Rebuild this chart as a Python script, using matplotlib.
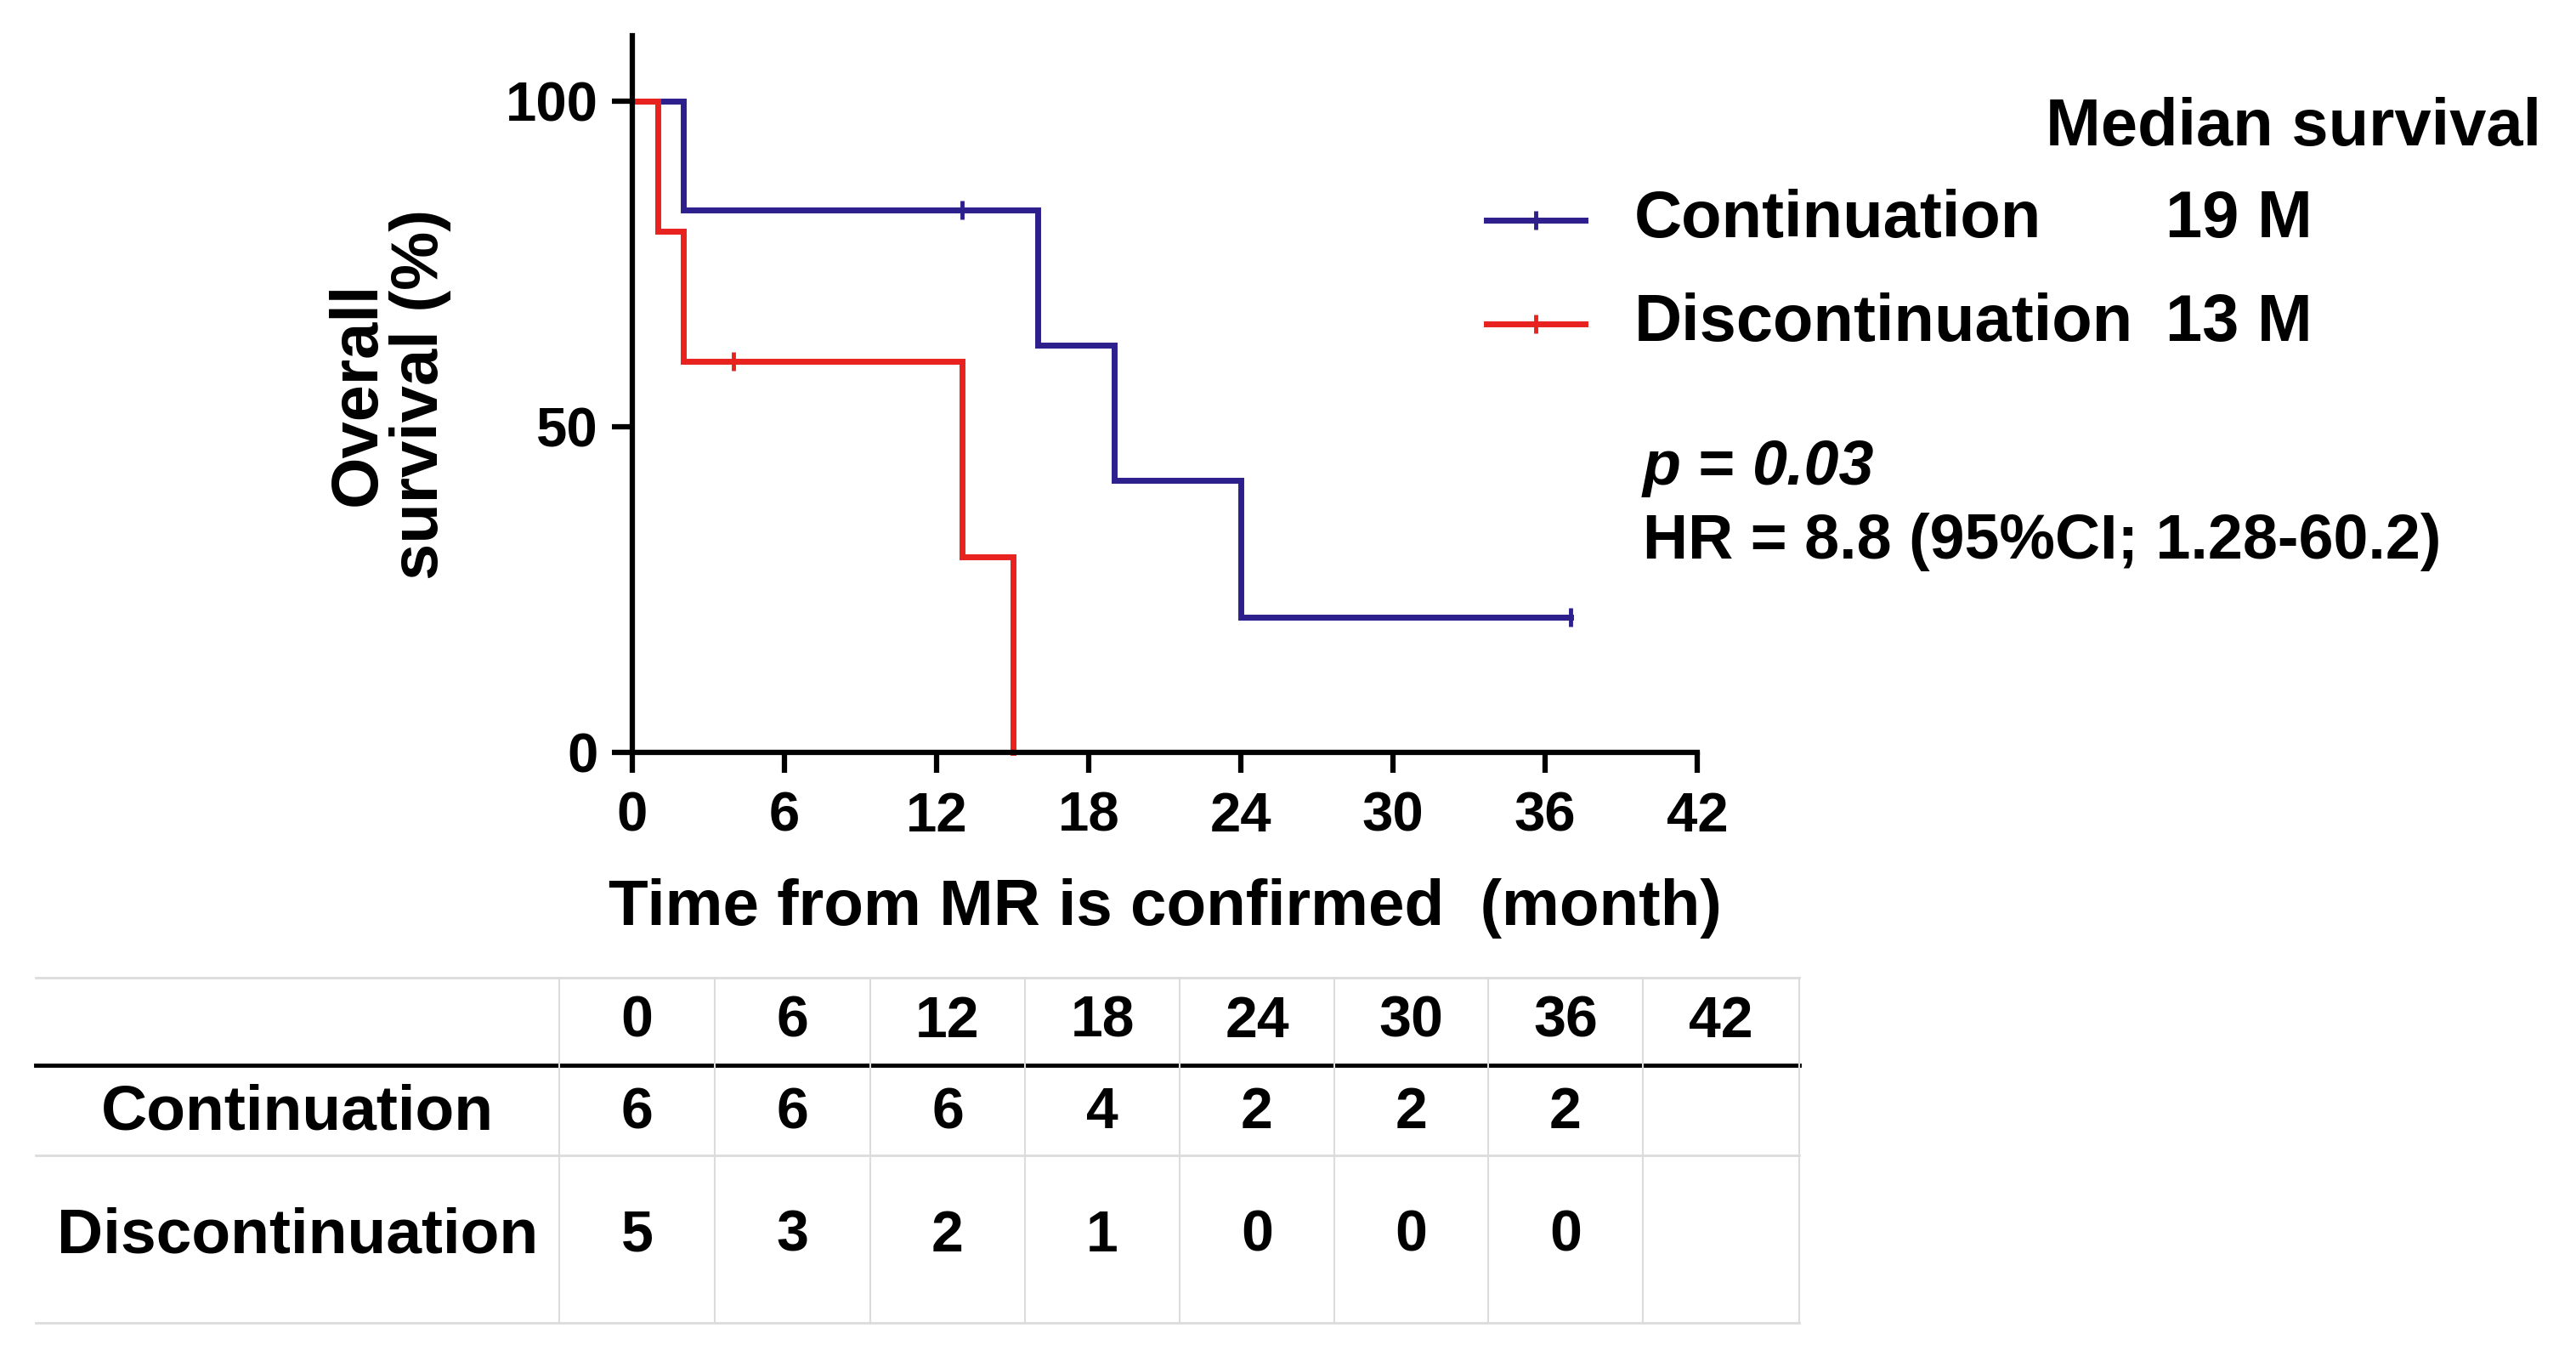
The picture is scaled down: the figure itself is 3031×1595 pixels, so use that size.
import matplotlib
matplotlib.use("Agg")
import matplotlib.pyplot as plt
from matplotlib.lines import Line2D

# ---------- data ----------
cont_time = [0, 2, 16, 19, 24, 37]
cont_surv = [100, 83.3, 62.5, 41.7, 20.8, 20.8]
cont_cens_time = [13, 37]
cont_cens_surv = [83.3, 20.8]

disc_time = [0, 1, 2, 13, 15]
disc_surv = [100, 80, 60, 30, 0]
disc_cens_time = [4]
disc_cens_surv = [60]

groups = ["Continuation", "Discontinuation"]
median_surv = ["19 M", "13 M"]
risk_times = [0, 6, 12, 18, 24, 30, 36, 42]
cont_at_risk = [6, 6, 6, 4, 2, 2, 2, None]
disc_at_risk = [5, 3, 2, 1, 0, 0, 0, None]

BLUE = "#2d1f8c"
RED = "#e8231f"
W, H = 3031, 1595

plt.rcParams['font.family'] = ['Liberation Sans', 'DejaVu Sans']
plt.rcParams['font.weight'] = 'bold'

fig = plt.figure(figsize=(W / 100, H / 100), dpi=100)
fig.patch.set_facecolor('white')

# axes placed in pixel terms
left, right, top, bottom = 744, 1997, 42, 885
ax = fig.add_axes([left / W, 1 - bottom / H, (right - left) / W, (bottom - top) / H])

ax.step(cont_time, cont_surv, where='post', color=BLUE, lw=5, solid_joinstyle='miter')
ax.step(disc_time, disc_surv, where='post', color=RED, lw=5, solid_joinstyle='miter')
ax.plot(cont_cens_time, cont_cens_surv, ls='none', marker='|', ms=16, mew=3.5, color=BLUE)
ax.plot(disc_cens_time, disc_cens_surv, ls='none', marker='|', ms=16, mew=3.5, color=RED)

ax.set_xlim(0, 42)
ax.set_ylim(0, 110)
ax.set_xticks(risk_times)
ax.set_yticks([0, 50, 100])
for s in ['top', 'right']:
    ax.spines[s].set_visible(False)
for s in ['left', 'bottom']:
    ax.spines[s].set_linewidth(4.5)
ax.tick_params(direction='out', length=17, width=4.5, labelsize=47)
ax.tick_params(axis='x', pad=16)
ax.tick_params(axis='y', pad=12)
for ln in ax.lines:
    ln.set_clip_on(False)

ax.set_xlabel("Time from MR is confirmed  (month)", fontsize=55, fontweight='bold')
ax.xaxis.set_label_coords(0.5, -(1069 - bottom) / (bottom - top))
ax.xaxis.label.set_va('center')
ax.set_ylabel("Overall\nsurvival (%)", fontsize=56, fontweight='bold', multialignment='center', linespacing=1.0)
ax.yaxis.set_label_coords(-(left - 458) / (right - left), 0.5)
ax.yaxis.label.set_va('center')

# ---------- legend with median survival ----------
fig.text(2990 / W, 1 - 151 / H, "Median survival", ha='right', va='center', fontsize=56)
for i, (g, m, c) in enumerate(zip(groups, median_surv, [BLUE, RED])):
    y = 1 - (259 + i * 122) / H
    fig.add_artist(Line2D([1749 / W, 1865 / W], [y, y], color=c, lw=5, transform=fig.transFigure))
    fig.add_artist(Line2D([1807 / W], [y], marker='|', ms=16, mew=3.5, color=c, transform=fig.transFigure))
    fig.text(1923 / W, y, g, ha='left', va='center', fontsize=56)
    fig.text(2548 / W, y, m, ha='left', va='center', fontsize=56)

# p value: italic p and number, upright "="
t1 = fig.text(1933 / W, 1 - 570 / H, "p", ha='left', va='baseline', fontsize=53, style='italic')
t2 = ax.annotate(" = ", xy=(1, 0), xycoords=t1, ha='left', va='bottom', fontsize=53, annotation_clip=False)
ax.annotate("0.03", xy=(1, 0), xycoords=t2, ha='left', va='bottom', fontsize=53, style='italic',
            annotation_clip=False)
fig.text(1933 / W, 1 - 638 / H, "HR = 8.8 (95%CI; 1.28-60.2)", ha='left', va='center', fontsize=53)

# ---------- number at risk table ----------
col_edges = [42, 658, 841, 1024, 1206, 1388, 1570, 1751, 1933, 2117]
row_edges = [1150, 1253, 1359, 1556]
grey = '#dcdcdc'
for yy in [row_edges[0], row_edges[2], row_edges[3]]:
    fig.add_artist(Line2D([col_edges[0] / W, col_edges[-1] / W], [1 - yy / H] * 2, color=grey, lw=2,
                          transform=fig.transFigure))
fig.add_artist(Line2D([col_edges[0] / W, col_edges[-1] / W], [1 - row_edges[1] / H] * 2, color='black', lw=3.5,
                      transform=fig.transFigure))
for xx in col_edges[1:]:
    fig.add_artist(Line2D([xx / W] * 2, [1 - row_edges[0] / H, 1 - row_edges[-1] / H], color=grey, lw=1.5,
                          transform=fig.transFigure))

row_y = [1202, 1309, 1454]
for j, t in enumerate(risk_times):
    cx = (col_edges[j + 1] + col_edges[j + 2]) / 2 / W
    fig.text(cx, 1 - row_y[0] / H, str(t), ha='center', va='center', fontsize=49)
    for k, vals in enumerate([cont_at_risk, disc_at_risk]):
        if vals[j] is not None:
            fig.text(cx, 1 - row_y[k + 1] / H, str(vals[j]), ha='center', va='center', fontsize=49)
for k, g in enumerate(groups):
    fig.text((col_edges[0] + col_edges[1]) / 2 / W, 1 - row_y[k + 1] / H, g, ha='center', va='center', fontsize=54)

fig.savefig("out.png", dpi=100, facecolor='white')
